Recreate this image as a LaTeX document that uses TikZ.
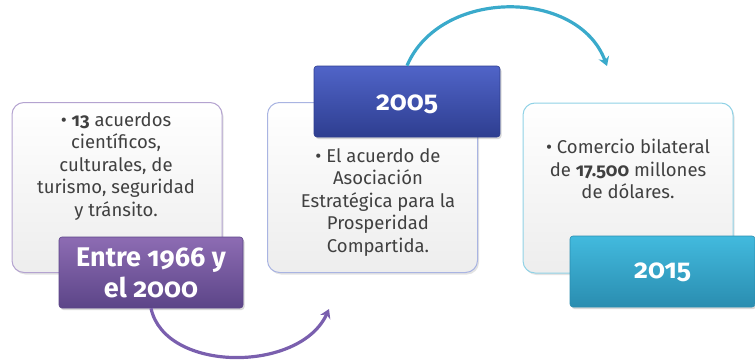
\documentclass[tikz,border=0pt]{standalone}
\usepackage{fontspec}
\setmainfont{Fira Sans}[Numbers=OldStyle]
\usetikzlibrary{shadows,arrows.meta}
\definecolor{txt}{HTML}{404040}
\definecolor{purA}{HTML}{8D6CB3}
\definecolor{purB}{HTML}{5C4588}
\definecolor{bluA}{HTML}{5064C8}
\definecolor{bluB}{HTML}{2E3E90}
\definecolor{teaA}{HTML}{42BADE}
\definecolor{teaB}{HTML}{2A8DB0}
\definecolor{purL}{HTML}{B4A3D0}
\definecolor{bluL}{HTML}{A9B4E2}
\definecolor{teaL}{HTML}{90D2E6}
\definecolor{purArr}{HTML}{7A5FAE}
\definecolor{teaArr}{HTML}{3AAACB}
\begin{document}
\begin{tikzpicture}[x=1pt,y=-1pt,
  card/.style={draw=#1, line width=1pt, rounded corners=12pt,
    top color=white, bottom color=black!7, minimum width=210pt, minimum height=170pt,
    drop shadow={opacity=0.22, shadow xshift=1.5pt, shadow yshift=-2pt}},
  tab/.style 2 args={draw=#2, line width=0.6pt, rounded corners=3pt, top color=#1, bottom color=#2,
    minimum height=71pt,
    drop shadow={opacity=0.3, shadow xshift=1.5pt, shadow yshift=-2pt}},
  body/.style={align=center, text=txt, inner sep=0pt, font=\fontsize{18.5}{22.5}\selectfont},
  title/.style={align=center, text=white, inner sep=0pt, font=\fontsize{27}{31}\selectfont\bfseries},
  arr/.style={line width=3.2pt, -{Stealth[length=9pt,width=11pt]}}
]
\useasboundingbox (0,0) rectangle (755,364);

% cards
\node[card=purL] (c1) at (117,187.5) {};
\node[card=bluL] (c2) at (372.5,187.5) {};
\node[card=teaL] (c3) at (628,188) {};

% card texts
\node[body, anchor=north] (b1) at (116,112) {\textbullet\ \textbf{13} acuerdos\\ científicos,\\ culturales, de\\ turismo, seguridad\\ y tránsito.};
\node[body, anchor=north] (b2) at (378,148) {\textbullet\ El acuerdo de\\ Asociación\\ Estratégica para la\\ Prosperidad\\ Compartida.};
\node[body, anchor=north] (b3) at (628,139) {\textbullet\ Comercio bilateral\\ de \textbf{17.500} millones\\ de dólares.};

% tabs
\node[tab={purA}{purB}, minimum width=184pt] (t1) at (151,272.5) {};
\node[tab={bluA}{bluB}, minimum width=186pt] (t2) at (407,101.5) {};
\node[tab={teaA}{teaB}, minimum width=185pt] (t3) at (662.5,271.5) {};

% tab titles
\node[title] (h1) at (t1.center) {Entre 1966 y\\ el 2000};
\node[title] (h2) at ([yshift=-2.5pt]t2.center) {2005};
\node[title] (h3) at ([yshift=-1pt]t3.center) {2015};

% arrows
\coordinate (e1) at (329,309);
\coordinate (e2) at (607,66);
\draw[arr, draw=purArr] (t1.south) .. controls (165,373) and (300,373) .. (e1);
\draw[arr, draw=teaArr] (t2.north) .. controls (440,-12) and (578,-12) .. (e2);
\end{tikzpicture}
\end{document}
